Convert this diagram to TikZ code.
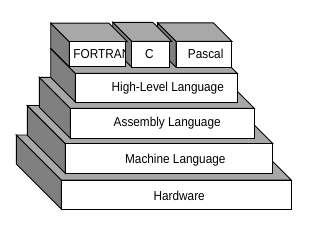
\documentclass[tikz,border=0pt]{standalone}
\usepackage{fontspec}
\usepackage{graphicx}
\setmainfont{Liberation Sans}
\definecolor{sidegray}{HTML}{808080}
\definecolor{topgray}{HTML}{A8A8A8}
\tikzset{
  face/.style={draw=black, line width=0.9pt, line join=miter},
  sideface/.style={face, fill=sidegray},
  topface/.style={face, fill=topgray},
  frontface/.style={face, fill=white, rectangle, inner sep=0pt, outer sep=0pt, anchor=north west},
  lbl/.style={font=\fontsize{11.8}{14}\selectfont, inner sep=0pt, anchor=base},
}
\newcommand{\talltext}[1]{\scalebox{1}[1.1]{#1}}
% #1 name, #2 x1, #3 y1, #4 x2, #5 y2, #6 depth, #7 top overhang
\newcommand{\layerbox}[7]{%
  \path[sideface] (#2,#3) -- ++(-#6,-#6) -- ++(0,#5-#3) -- (#2,#5) -- cycle;
  \path[topface] (#2,#3) -- (#4+#7,#3) -- ++(-#6,-#6) -- (#2-#6,#3-#6) -- cycle;
  \node[frontface, minimum width={(#4-#2)*1pt}, minimum height={(#5-#3)*1pt}] (#1) at (#2,#3) {};
}
\begin{document}
\begin{tikzpicture}[x=1pt,y=-1pt]
\useasboundingbox (0,0) rectangle (314,234);
\layerbox{hw}{61.3}{180}{291.3}{209}{45}{0}
\layerbox{ml}{65.3}{143.5}{272.7}{173.3}{38}{0}
\layerbox{al}{70.3}{108.3}{254.3}{138.3}{31}{0}
\layerbox{hl}{75.3}{73.3}{237.3}{102}{24.6}{0}
\layerbox{pa}{176}{41.3}{231.7}{67.3}{18.4}{0}
\layerbox{cc}{131.7}{41.3}{169.3}{67.3}{19}{2.5}
\layerbox{fo}{69.3}{41.7}{125}{66.7}{18.6}{2.5}
\node[lbl] (hwt) at (179.2,200.3) {\talltext{Hardware}};
\node[lbl] (mlt) at (175.3,163.7) {\talltext{Machine Language}};
\node[lbl] (alt) at (167.2,126.5) {\talltext{Assembly Language}};
\node[lbl] (hlt) at (167.8,91.7) {\talltext{High-Level Language}};
\begin{scope}
  \clip (fo.north west) rectangle (fo.south east);
  \node[lbl, anchor=base west] (fot) at (73.3,58.3) {\talltext{FORTRAN}};
\end{scope}
\node[lbl] (cct) at (149.5,58.3) {\talltext{C}};
\node[lbl] (pat) at (205.7,58.3) {\talltext{Pascal}};
\end{tikzpicture}
\end{document}
